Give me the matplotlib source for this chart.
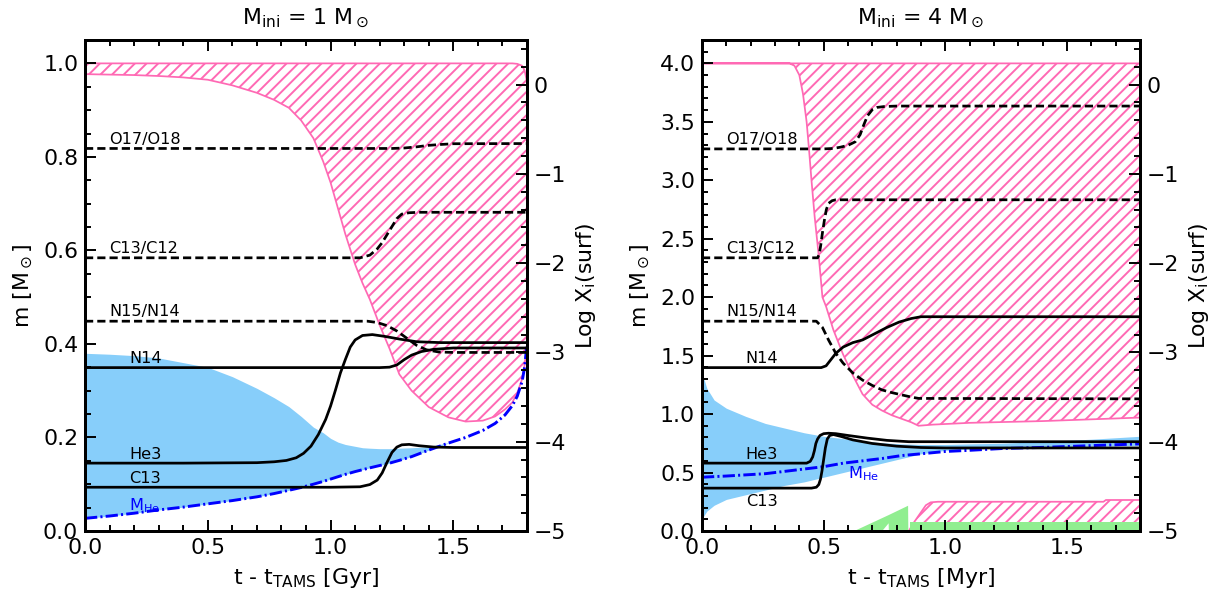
import numpy as np
import matplotlib.pyplot as plt
from matplotlib.ticker import MultipleLocator

FS = 11.3
PINK = 'hotpink'
HATCH = '////'
plt.rcParams['hatch.linewidth'] = 1.0

# ---- panel 1 : M_ini = 1 Msun (time in Gyr) ----
t1 = [0.0, 0.1, 0.2, 0.3, 0.4, 0.5, 0.6, 0.7, 0.77, 0.83, 0.88, 0.93, 0.97, 1.0,
      1.03, 1.06, 1.1, 1.13, 1.16, 1.2, 1.24, 1.28, 1.33, 1.4, 1.48, 1.55, 1.62,
      1.67, 1.71, 1.74, 1.76, 1.78, 1.79, 1.8]
mhe1 = [0.027, 0.032, 0.038, 0.045, 0.051, 0.058, 0.065, 0.073, 0.080, 0.087, 0.093,
        0.100, 0.106, 0.111, 0.116, 0.121, 0.127, 0.131, 0.135, 0.140, 0.145, 0.151,
        0.159, 0.173, 0.188, 0.200, 0.215, 0.230, 0.248, 0.268, 0.288, 0.320, 0.350, 0.400]
cz1_top = [0.38, 0.378, 0.375, 0.37, 0.36, 0.35, 0.33, 0.305, 0.285, 0.266, 0.245,
           0.222, 0.21, 0.198, 0.19, 0.185, 0.181, 0.178, 0.177, 0.176, 0.176, 0.177,
           0.178, 0.18, 0.189, np.nan, np.nan, np.nan, np.nan, np.nan, np.nan, np.nan,
           np.nan, np.nan]
env1_bot = [0.977, 0.976, 0.975, 0.973, 0.97, 0.965, 0.953, 0.937, 0.922, 0.905, 0.878,
            0.84, 0.79, 0.745, 0.69, 0.635, 0.57, 0.53, 0.495, 0.44, 0.39, 0.335, 0.30,
            0.265, 0.243, 0.234, 0.236, 0.245, 0.26, 0.275, 0.295, 0.325, 0.355, 0.40]
env1_top = [1.0, 1.0, 1.0, 1.0, 1.0, 1.0, 1.0, 1.0, 1.0, 1.0, 1.0, 1.0, 1.0, 1.0,
            1.0, 1.0, 1.0, 1.0, 1.0, 1.0, 1.0, 1.0, 1.0, 1.0, 1.0, 1.0, 1.0, 1.0,
            1.0, 1.0, 0.999, 0.995, 0.985, 0.96]

# surface abundances, log X (panel 1)
o1_t = [0, 0.6, 1.25, 1.3, 1.35, 1.4, 1.45, 1.5, 1.8]
o1_v = [-0.715, -0.715, -0.715, -0.71, -0.697, -0.68, -0.67, -0.662, -0.66]
c12_1_t = [0, 0.6, 1.12, 1.16, 1.19, 1.21, 1.23, 1.25, 1.27, 1.29, 1.32, 1.36, 1.8]
c12_1_v = [-1.94, -1.94, -1.94, -1.91, -1.84, -1.77, -1.68, -1.59, -1.5, -1.45,
           -1.435, -1.43, -1.43]
n15_1_t = [0, 0.6, 1.15, 1.19, 1.23, 1.27, 1.31, 1.35, 1.39, 1.44, 1.5, 1.8]
n15_1_v = [-2.65, -2.65, -2.65, -2.665, -2.7, -2.76, -2.84, -2.92, -2.97, -2.995, -3.0, -3.0]
n14_1_t = [0, 0.6, 1.2, 1.24, 1.27, 1.3, 1.33, 1.37, 1.42, 1.5, 1.8]
n14_1_v = [-3.17, -3.17, -3.17, -3.165, -3.14, -3.08, -3.03, -2.99, -2.965, -2.95, -2.95]
he3_1_t = [0, 0.4, 0.7, 0.77, 0.82, 0.86, 0.89, 0.92, 0.95, 0.98, 1.0, 1.02, 1.04,
           1.06, 1.08, 1.1, 1.13, 1.17, 1.22, 1.28, 1.35, 1.45, 1.8]
he3_1_v = [-4.24, -4.24, -4.235, -4.225, -4.21, -4.18, -4.13, -4.05, -3.92, -3.75,
           -3.6, -3.42, -3.23, -3.08, -2.94, -2.86, -2.81, -2.8, -2.82, -2.85, -2.88,
           -2.89, -2.89]
c13_1_t = [0, 0.5, 1.0, 1.12, 1.16, 1.19, 1.21, 1.23, 1.25, 1.27, 1.29, 1.32, 1.36,
           1.42, 1.5, 1.8]
c13_1_v = [-4.51, -4.51, -4.51, -4.505, -4.48, -4.43, -4.35, -4.23, -4.12, -4.06,
           -4.035, -4.03, -4.045, -4.06, -4.065, -4.065]

# ---- panel 2 : M_ini = 4 Msun (time in Myr) ----
t2 = [0, 0.005, 0.02, 0.05, 0.1, 0.18, 0.26, 0.34, 0.42, 0.5, 0.58, 0.66, 0.74, 0.82,
      0.9, 1.0, 1.1, 1.23, 1.4, 1.6, 1.8]
cz2_top = [1.48, 1.32, 1.22, 1.12, 1.05, 0.98, 0.92, 0.88, 0.84, 0.81, 0.79, 0.77,
           0.755, 0.745, 0.74, 0.74, 0.745, 0.75, 0.765, 0.785, 0.81]
cz2_bot = [0.07, 0.12, 0.17, 0.22, 0.27, 0.31, 0.35, 0.39, 0.42, 0.46, 0.5, 0.54,
           0.58, 0.62, 0.66, 0.69, 0.7, 0.71, 0.72, 0.725, 0.73]
mhe2 = [0.46, 0.46, 0.462, 0.465, 0.47, 0.48, 0.49, 0.51, 0.53, 0.55, 0.58, 0.6,
        0.62, 0.645, 0.66, 0.68, 0.69, 0.705, 0.715, 0.73, 0.745]

env2_t = [0.0, 0.36, 0.38, 0.4, 0.415, 0.43, 0.44, 0.45, 0.463, 0.48, 0.495, 0.51,
          0.54, 0.58, 0.62, 0.66, 0.7, 0.74, 0.78, 0.82, 0.86, 0.89, 0.95, 1.1, 1.4,
          1.6, 1.8]
env2_bot = [4.0, 4.0, 3.98, 3.9, 3.74, 3.5, 3.26, 3.0, 2.69, 2.35, 2.0, 1.92, 1.72,
            1.51, 1.33, 1.17, 1.08, 1.03, 0.99, 0.96, 0.93, 0.90, 0.91, 0.925, 0.94,
            0.955, 0.97]
env2_top = [4.0, 4.0, 4.0, 4.0, 4.0, 4.0, 4.0, 4.0, 4.0, 4.0, 4.0, 4.0, 4.0, 4.0,
            4.0, 4.0, 4.0, 4.0, 4.0, 4.0, 4.0, 4.0, 4.0, 4.0, 4.0, 4.0, 4.0]

# small convective zone near the bottom
env3_t = [0.85, 0.87, 0.9, 0.92, 0.94, 0.97, 1.2, 1.65, 1.66, 1.8]
env3_top = [0.0, 0.07, 0.16, 0.22, 0.245, 0.25, 0.25, 0.25, 0.265, 0.265]

# green (burning) regions
gr1_t = [0.62, 0.737, 0.765, 0.766, 0.845, 0.846]
gr1_top = [0.0, 0.113, 0.14, 0.141, 0.22, 0.0]
gr1_bot = [0.0, 0.0, 0.07, 0.0, 0.0, 0.0]
gr2_t = [0.855, 1.8]
gr2_top = [0.08, 0.08]

o2_t = [0, 0.3, 0.5, 0.54, 0.57, 0.6, 0.63, 0.65, 0.665, 0.68, 0.7, 0.72, 0.75, 0.8, 1.8]
o2_v = [-0.72, -0.72, -0.72, -0.715, -0.7, -0.68, -0.64, -0.56, -0.45, -0.35, -0.28,
        -0.255, -0.245, -0.24, -0.24]
c12_2_t = [0, 0.3, 0.475, 0.482, 0.488, 0.495, 0.503, 0.511, 0.52, 0.535, 0.55, 0.6, 1.8]
c12_2_v = [-1.94, -1.94, -1.94, -1.9, -1.8, -1.66, -1.52, -1.4, -1.33, -1.3, -1.29,
           -1.29, -1.29]
n15_2_t = [0, 0.3, 0.47, 0.495, 0.52, 0.55, 0.58, 0.62, 0.66, 0.7, 0.74, 0.78, 0.82,
           0.86, 0.89, 1.8]
n15_2_v = [-2.65, -2.65, -2.65, -2.72, -2.86, -3.01, -3.12, -3.23, -3.31, -3.37, -3.42,
           -3.45, -3.475, -3.5, -3.515, -3.52]
n14_2_t = [0, 0.3, 0.49, 0.51, 0.53, 0.55, 0.58, 0.62, 0.66, 0.71, 0.76, 0.81, 0.86, 0.9, 1.8]
n14_2_v = [-3.17, -3.17, -3.17, -3.15, -3.08, -3.01, -2.94, -2.89, -2.86, -2.79, -2.72,
           -2.66, -2.62, -2.6, -2.6]
he3_2_t = [0, 0.3, 0.43, 0.445, 0.455, 0.462, 0.468, 0.475, 0.485, 0.5, 0.52, 0.55,
           0.6, 0.68, 0.76, 0.85, 0.95, 1.8]
he3_2_v = [-4.24, -4.24, -4.24, -4.22, -4.17, -4.1, -4.02, -3.97, -3.93, -3.91, -3.905,
           -3.91, -3.93, -3.96, -3.985, -4.0, -4.0, -4.0]
c13_2_t = [0, 0.3, 0.45, 0.47, 0.48, 0.487, 0.493, 0.5, 0.507, 0.515, 0.525, 0.54,
           0.57, 0.62, 0.7, 0.8, 0.9, 1.0, 1.8]
c13_2_v = [-4.52, -4.52, -4.52, -4.51, -4.48, -4.42, -4.33, -4.2, -4.07, -3.97, -3.93,
           -3.92, -3.94, -3.98, -4.02, -4.05, -4.065, -4.07, -4.07]

# line labels (text, x, baseline in log X)
lab_txt = ['O17/O18', 'C13/C12', 'N15/N14', 'N14', 'He3', 'C13']
lab1_x = [0.1, 0.1, 0.1, 0.18, 0.18, 0.18]
lab1_y = [-0.665, -1.885, -2.595, -3.12, -4.195, -4.465]
lab2_x = [0.1, 0.1, 0.1, 0.18, 0.18, 0.18]
lab2_y = [-0.67, -1.885, -2.595, -3.12, -4.195, -4.72]


def style(ax, ax2, ymaj, ymin):
    ax.set_xlim(0, 1.8)
    ax2.set_ylim(-5, 0.5)
    ax.xaxis.set_major_locator(MultipleLocator(0.5))
    ax.xaxis.set_minor_locator(MultipleLocator(0.1))
    ax.yaxis.set_major_locator(MultipleLocator(ymaj))
    ax.yaxis.set_minor_locator(MultipleLocator(ymin))
    ax2.yaxis.set_major_locator(MultipleLocator(1))
    ax2.yaxis.set_minor_locator(MultipleLocator(0.2))
    ax.tick_params(which='both', direction='in', top=True, right=False, labelsize=FS)
    ax2.tick_params(which='both', direction='in', right=True, labelsize=FS)
    for a in (ax, ax2):
        a.tick_params(which='major', length=5.7, width=1)
        a.tick_params(which='minor', length=3, width=1)
        for s in a.spines.values():
            s.set_linewidth(1.5)
    ax.set_ylabel(r'm [M$_\odot$]', fontsize=FS)
    ax2.set_ylabel(r'Log X$_{\rm i}$(surf)', fontsize=FS)


def abund(ax2, curves, lx, ly):
    for t, v, ls in curves:
        if ls == '--':
            ax2.plot(t, v, color='black', lw=1.4, ls='--', dashes=(3.0, 1.5))
        else:
            ax2.plot(t, v, color='black', lw=1.4)
    for s, x, y in zip(lab_txt, lx, ly):
        ax2.text(x, y, s, fontsize=8.3, va='baseline')


fig = plt.figure(figsize=(1220 / 140, 597 / 140), dpi=140)
ax = fig.add_axes([0.0697, 0.1106, 0.3623, 0.8224])
ax3 = fig.add_axes([0.5754, 0.1106, 0.359, 0.8224])

# left panel
ax.fill_between(t1, mhe1, cz1_top, color='lightskyblue', lw=0)
ax.fill_between(t1, env1_bot, env1_top, facecolor='none', edgecolor=PINK,
                hatch=HATCH, lw=0.9)
ax.plot(t1, mhe1, color='blue', lw=1.5, ls='-.', dashes=(4.2, 1.1, 0.7, 1.1))
ax.text(0.18, 0.045, r'M$_{\rm He}$', color='blue', fontsize=8.3)
ax.set_ylim(0, 1.05)
ax.set_xlabel(r't - t$_{\rm TAMS}$ [Gyr]', fontsize=FS)
ax.set_title(r'M$_{\rm ini}$ = 1 M$_\odot$', fontsize=FS, pad=8)
ax2 = ax.twinx()
abund(ax2, [(o1_t, o1_v, '--'), (c12_1_t, c12_1_v, '--'), (n15_1_t, n15_1_v, '--'),
            (n14_1_t, n14_1_v, '-'), (he3_1_t, he3_1_v, '-'), (c13_1_t, c13_1_v, '-')],
      lab1_x, lab1_y)
style(ax, ax2, 0.2, 0.05)

# right panel
ax3.fill_between(t2, cz2_bot, cz2_top, color='lightskyblue', lw=0)
ax3.fill_between(env2_t, env2_bot, env2_top, facecolor='none', edgecolor=PINK,
                 hatch=HATCH, lw=0.9)
ax3.fill_between(env3_t, 0, env3_top, facecolor='none', edgecolor=PINK,
                 hatch=HATCH, lw=0.9)
ax3.fill_between(gr1_t, gr1_bot, gr1_top, color='lightgreen', lw=0)
ax3.fill_between(gr2_t, 0, gr2_top, color='lightgreen', lw=0)
ax3.plot(t2, mhe2, color='blue', lw=1.5, ls='-.', dashes=(4.2, 1.1, 0.7, 1.1))
ax3.text(0.6, 0.45, r'M$_{\rm He}$', color='blue', fontsize=8.3)
ax3.set_ylim(0, 4.2)
ax3.set_xlabel(r't - t$_{\rm TAMS}$ [Myr]', fontsize=FS)
ax3.set_title(r'M$_{\rm ini}$ = 4 M$_\odot$', fontsize=FS, pad=8)
ax4 = ax3.twinx()
abund(ax4, [(o2_t, o2_v, '--'), (c12_2_t, c12_2_v, '--'), (n15_2_t, n15_2_v, '--'),
            (n14_2_t, n14_2_v, '-'), (he3_2_t, he3_2_v, '-'), (c13_2_t, c13_2_v, '-')],
      lab2_x, lab2_y)
style(ax3, ax4, 0.5, 0.1)

fig.savefig('out.png', dpi=140)
